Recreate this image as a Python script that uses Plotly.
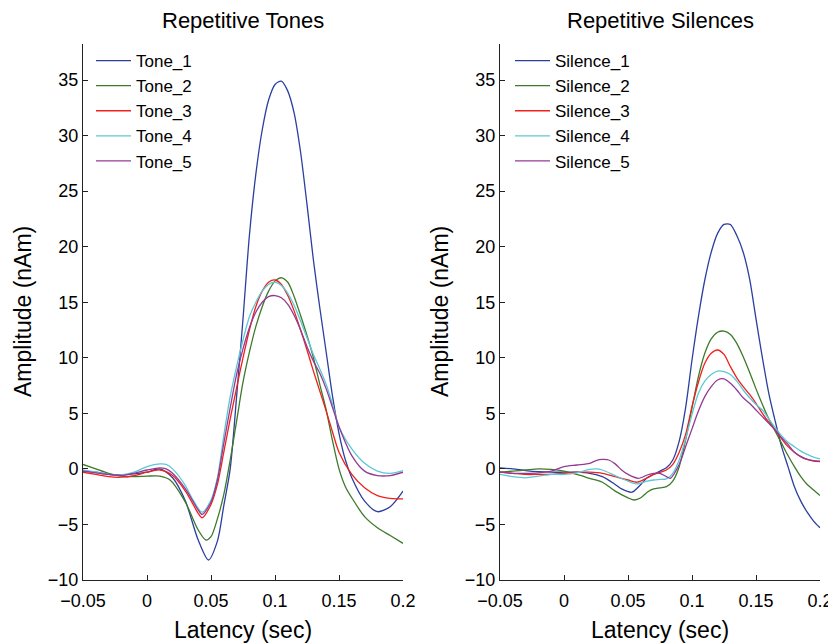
import plotly.graph_objects as go
from plotly.subplots import make_subplots

# Repetitive tones (left panel), latency in sec, amplitude in nAm
tone1_x = [-0.05, -0.04, -0.03, -0.02, -0.01, 0.0, 0.01, 0.02, 0.03, 0.04, 0.048, 0.055, 0.06, 0.065,
           0.07, 0.075, 0.08, 0.085, 0.09, 0.095, 0.1, 0.105, 0.11, 0.115, 0.12, 0.125, 0.13, 0.135,
           0.14, 0.145, 0.15, 0.155, 0.16, 0.17, 0.18, 0.19, 0.2]
tone1_y = [-0.2, -0.3, -0.5, -0.55, -0.45, -0.3, 0.0, -0.8, -2.9, -6.4, -8.2, -6.5, -3.3, 0.0,
           6.5, 13.5, 21.0, 26.5, 30.5, 33.2, 34.6, 34.9, 34.0, 32.0, 28.5, 23.8, 18.8, 14.5,
           10.5, 6.5, 3.2, 0.8, -0.8, -2.9, -3.85, -3.4, -2.0]

tone2_x = [-0.05, -0.04, -0.03, -0.02, -0.01, 0.0, 0.01, 0.018, 0.03, 0.04, 0.046, 0.05, 0.055, 0.06,
           0.065, 0.07, 0.075, 0.08, 0.085, 0.09, 0.095, 0.1, 0.105, 0.11, 0.115, 0.12, 0.125, 0.13,
           0.135, 0.14, 0.145, 0.15, 0.155, 0.16, 0.17, 0.18, 0.19, 0.2]
tone2_y = [0.4, 0.0, -0.4, -0.65, -0.7, -0.65, -0.65, -1.0, -3.0, -5.5, -6.4, -6.1, -4.5, -2.3,
           0.8, 4.3, 7.8, 10.5, 12.8, 14.6, 16.0, 16.9, 17.2, 16.8, 15.5, 13.8, 12.0, 10.0,
           7.6, 5.3, 2.5, 0.0, -1.6, -2.6, -4.3, -5.3, -6.0, -6.7]

tone3_x = [-0.05, -0.04, -0.03, -0.02, -0.01, 0.0, 0.01, 0.02, 0.03, 0.04, 0.043, 0.05, 0.055, 0.06,
           0.065, 0.07, 0.075, 0.08, 0.085, 0.09, 0.095, 0.1, 0.105, 0.11, 0.115, 0.12, 0.125, 0.13,
           0.135, 0.14, 0.145, 0.15, 0.16, 0.17, 0.18, 0.19, 0.2]
tone3_y = [-0.3, -0.5, -0.7, -0.75, -0.6, -0.3, -0.1, -0.6, -2.0, -4.0, -4.4, -3.2, -1.4, 1.5,
           4.5, 7.3, 10.0, 12.5, 14.6, 16.0, 16.8, 17.0, 16.6, 15.6, 14.2, 12.5, 10.7, 8.8,
           7.0, 5.2, 3.3, 1.5, -0.5, -1.7, -2.4, -2.65, -2.7]

tone4_x = [-0.05, -0.04, -0.03, -0.02, -0.01, 0.0, 0.01, 0.015, 0.02, 0.03, 0.035, 0.043, 0.05, 0.055,
           0.06, 0.065, 0.07, 0.075, 0.08, 0.085, 0.09, 0.095, 0.1, 0.105, 0.11, 0.115, 0.12, 0.125,
           0.13, 0.135, 0.14, 0.145, 0.15, 0.16, 0.17, 0.18, 0.19, 0.2]
tone4_y = [-0.1, -0.3, -0.5, -0.55, -0.3, 0.2, 0.45, 0.4, 0.0, -1.5, -2.6, -3.9, -2.8, -0.8,
           3.0, 6.5, 9.2, 11.6, 13.7, 15.0, 16.0, 16.6, 16.8, 16.5, 15.8, 14.7, 13.3, 11.8,
           10.3, 9.0, 7.6, 5.8, 3.8, 1.8, 0.5, -0.2, -0.4, -0.15]

tone5_x = [-0.05, -0.04, -0.03, -0.02, -0.01, 0.0, 0.01, 0.015, 0.02, 0.03, 0.04, 0.043, 0.05, 0.055,
           0.06, 0.065, 0.07, 0.075, 0.08, 0.085, 0.09, 0.095, 0.1, 0.105, 0.11, 0.115, 0.12, 0.125,
           0.13, 0.135, 0.14, 0.145, 0.15, 0.16, 0.17, 0.18, 0.19, 0.2]
tone5_y = [-0.2, -0.35, -0.5, -0.6, -0.4, -0.1, 0.1, 0.0, -0.4, -1.8, -3.7, -4.1, -3.0, -1.0,
           2.3, 5.5, 8.5, 10.8, 12.7, 14.1, 15.0, 15.5, 15.6, 15.4, 14.8, 13.8, 12.5, 11.0,
           9.7, 8.6, 7.2, 5.5, 3.8, 1.2, -0.2, -0.6, -0.6, -0.3]

# Repetitive silences (right panel)
sil1_x = [-0.05, -0.04, -0.03, -0.02, -0.01, 0.0, 0.01, 0.02, 0.03, 0.04, 0.045, 0.053, 0.06, 0.065,
          0.07, 0.075, 0.08, 0.085, 0.09, 0.095, 0.1, 0.105, 0.11, 0.115, 0.12, 0.125, 0.13, 0.135,
          0.14, 0.145, 0.15, 0.155, 0.16, 0.165, 0.17, 0.175, 0.18, 0.185, 0.19, 0.195, 0.2]
sil1_y = [0.1, 0.0, -0.15, -0.25, -0.3, -0.3, -0.3, -0.4, -0.7, -1.4, -1.8, -2.1, -1.4, -0.8,
          -0.5, -0.2, 0.1, 0.8, 2.5, 5.5, 9.8, 13.7, 17.0, 19.5, 21.2, 22.0, 22.0, 21.0,
          19.5, 17.1, 13.5, 10.0, 6.8, 4.3, 2.0, 0.2, -1.6, -2.9, -3.9, -4.7, -5.3]

sil2_x = [-0.05, -0.04, -0.03, -0.02, -0.01, 0.0, 0.01, 0.02, 0.03, 0.04, 0.05, 0.055, 0.06, 0.065,
          0.07, 0.075, 0.08, 0.085, 0.09, 0.095, 0.1, 0.105, 0.11, 0.115, 0.12, 0.125, 0.13, 0.135,
          0.14, 0.145, 0.15, 0.155, 0.16, 0.165, 0.17, 0.175, 0.18, 0.185, 0.19, 0.195, 0.2]
sil2_y = [-0.3, -0.2, -0.1, 0.0, -0.05, -0.2, -0.5, -0.85, -1.2, -2.0, -2.6, -2.8, -2.6, -2.1,
          -1.8, -1.7, -1.6, -1.1, 0.2, 2.6, 5.5, 8.3, 10.4, 11.7, 12.3, 12.4, 12.1, 11.3,
          10.1, 8.7, 7.2, 5.8, 4.5, 3.4, 2.3, 1.2, 0.2, -0.7, -1.4, -1.9, -2.4]

sil3_x = [-0.05, -0.04, -0.03, -0.02, -0.01, 0.0, 0.01, 0.02, 0.03, 0.04, 0.05, 0.057, 0.065, 0.07,
          0.08, 0.085, 0.09, 0.095, 0.1, 0.105, 0.11, 0.115, 0.12, 0.125, 0.13, 0.135, 0.14, 0.145,
          0.15, 0.155, 0.16, 0.165, 0.17, 0.175, 0.18, 0.185, 0.19, 0.195, 0.2]
sil3_y = [-0.3, -0.4, -0.5, -0.5, -0.5, -0.4, -0.3, -0.3, -0.4, -0.7, -1.0, -1.2, -0.8, -0.5,
          -0.1, 0.4, 1.5, 3.1, 5.6, 7.8, 9.5, 10.4, 10.7, 10.3, 9.2, 8.2, 7.4, 6.7,
          5.9, 5.0, 4.2, 3.5, 2.7, 2.0, 1.5, 1.1, 0.85, 0.7, 0.65]

sil4_x = [-0.05, -0.04, -0.03, -0.02, -0.01, 0.0, 0.01, 0.02, 0.025, 0.03, 0.04, 0.05, 0.057, 0.065,
          0.07, 0.075, 0.08, 0.085, 0.09, 0.095, 0.1, 0.105, 0.11, 0.115, 0.12, 0.125, 0.13, 0.135,
          0.14, 0.145, 0.15, 0.155, 0.16, 0.165, 0.17, 0.175, 0.18, 0.185, 0.19, 0.195, 0.2]
sil4_y = [-0.5, -0.7, -0.8, -0.65, -0.5, -0.5, -0.35, -0.05, 0.0, -0.1, -0.6, -1.1, -1.35, -1.1,
          -1.0, -0.95, -0.9, -0.4, 0.8, 2.7, 4.9, 6.8, 7.9, 8.5, 8.8, 8.75, 8.5, 7.9,
          7.1, 6.4, 5.8, 5.3, 4.5, 3.7, 3.0, 2.4, 2.0, 1.6, 1.3, 1.05, 0.9]

sil5_x = [-0.05, -0.04, -0.03, -0.02, -0.01, 0.0, 0.01, 0.02, 0.025, 0.03, 0.035, 0.04, 0.045, 0.05,
          0.058, 0.065, 0.07, 0.075, 0.08, 0.083, 0.09, 0.095, 0.1, 0.105, 0.11, 0.115, 0.12, 0.125,
          0.13, 0.135, 0.14, 0.145, 0.15, 0.155, 0.16, 0.165, 0.17, 0.175, 0.18, 0.185, 0.19, 0.195, 0.2]
sil5_y = [-0.3, -0.4, -0.4, -0.35, -0.2, 0.2, 0.35, 0.5, 0.75, 0.85, 0.8, 0.45, -0.1, -0.5,
          -0.85, -0.55, -0.4, -0.4, -0.7, -0.85, 0.4, 2.0, 3.6, 5.2, 6.5, 7.4, 8.0, 8.1,
          7.7, 7.1, 6.4, 5.9, 5.3, 4.7, 4.1, 3.5, 2.8, 2.2, 1.5, 1.1, 0.85, 0.75, 0.7]

colors = ['#2b3f9e', '#3d7a2b', '#f0201c', '#5cc8d4', '#943a94']
tone_names = ['Tone_1', 'Tone_2', 'Tone_3', 'Tone_4', 'Tone_5']
sil_names = ['Silence_1', 'Silence_2', 'Silence_3', 'Silence_4', 'Silence_5']
tones = [(tone1_x, tone1_y), (tone2_x, tone2_y), (tone3_x, tone3_y), (tone4_x, tone4_y), (tone5_x, tone5_y)]
silences = [(sil1_x, sil1_y), (sil2_x, sil2_y), (sil3_x, sil3_y), (sil4_x, sil4_y), (sil5_x, sil5_y)]

x_ticks = [-0.05, 0, 0.05, 0.1, 0.15, 0.2]
x_tick_text = ['\u22120.05', '0', '0.05', '0.1', '0.15', '0.2']
y_ticks = [-10, -5, 0, 5, 10, 15, 20, 25, 30, 35]
y_tick_text = ['\u221210', '\u22125', '0', '5', '10', '15', '20', '25', '30', '35']

FONT = "Arial, Liberation Sans, sans-serif"
W, H = 836, 644
OFF = 8  # page body margin, positions below are measured on the page


def px(x):
    return (x - OFF) / W


def py(y):
    return 1 - (y - OFF) / H


fig = make_subplots(rows=1, cols=2)

for (xs, ys), name, c in zip(tones, tone_names, colors):
    fig.add_trace(go.Scatter(x=xs, y=ys, name=name, mode='lines',
                             line=dict(color=c, width=1.3, shape='spline', smoothing=0.8),
                             legend='legend'), row=1, col=1)
for (xs, ys), name, c in zip(silences, sil_names, colors):
    fig.add_trace(go.Scatter(x=xs, y=ys, name=name, mode='lines',
                             line=dict(color=c, width=1.3, shape='spline', smoothing=0.8),
                             legend='legend2'), row=1, col=2)

axis_common = dict(showline=True, linecolor='#222', linewidth=1, ticks='inside', ticklen=5, tickcolor='#222',
                   showgrid=False, zeroline=False, automargin=False,
                   tickfont=dict(size=18, color='black', family=FONT))

fig.update_xaxes(range=[-0.05, 0.2], tickvals=x_ticks, ticktext=x_tick_text, ticklabelstandoff=4, **axis_common)
fig.update_yaxes(range=[-10, 38.24], tickvals=y_ticks, ticktext=y_tick_text, **axis_common)

title_font = dict(size=22, family=FONT, color='black')
label_font = dict(size=23, family=FONT, color='black')
legend_font = dict(size=17, family=FONT, color='black')


def label(text, x, y, font, angle=0):
    return dict(text=text, x=px(x), y=py(y), xref='paper', yref='paper', showarrow=False,
                xanchor='center', yanchor='middle', textangle=angle, font=font)


fig.update_layout(
    width=W, height=H,
    margin=dict(l=0, r=0, t=0, b=0),
    paper_bgcolor='white', plot_bgcolor='white',
    font=dict(family=FONT, color='black'),
    xaxis=dict(domain=[px(83), px(403)]),
    xaxis2=dict(domain=[px(500), px(820)]),
    yaxis=dict(domain=[py(580), py(44)]),
    yaxis2=dict(domain=[py(580), py(44)]),
    legend=dict(x=px(91), y=py(43), xanchor='left', yanchor='top', bgcolor='rgba(0,0,0,0)',
                font=legend_font, tracegroupgap=0, itemwidth=35),
    legend2=dict(x=px(510), y=py(43), xanchor='left', yanchor='top', bgcolor='rgba(0,0,0,0)',
                 font=legend_font, tracegroupgap=0, itemwidth=35),
    annotations=[
        label('Repetitive Tones', 243, 20, title_font),
        label('Repetitive Silences', 660, 20, title_font),
        label('Latency (sec)', 243, 630, label_font),
        label('Latency (sec)', 660, 630, label_font),
        label('Amplitude (nAm)', 23, 312, label_font, -90),
        label('Amplitude (nAm)', 440, 312, label_font, -90),
    ],
)

fig.write_html("out.html")
